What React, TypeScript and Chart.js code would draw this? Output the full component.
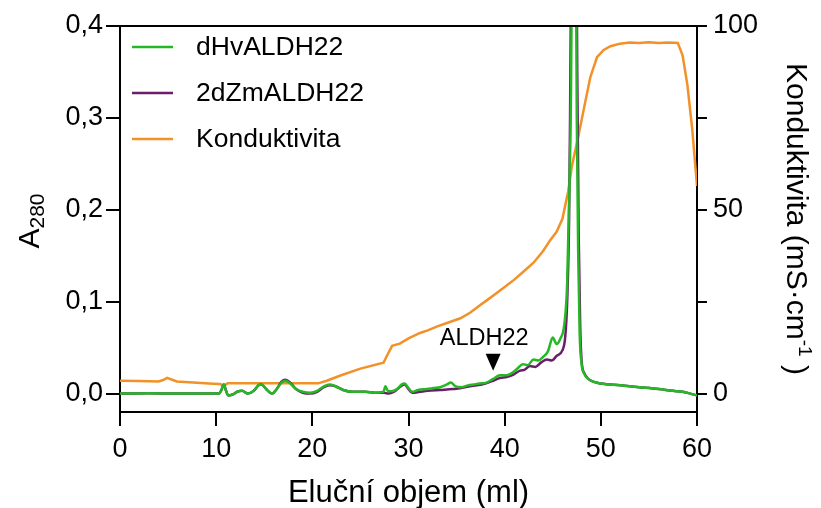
import React, { useEffect, useRef } from 'react';
import { Chart, registerables } from 'chart.js';

Chart.register(...registerables);

const FONT = "'Liberation Sans', Arial, Helvetica, sans-serif";

// ---- axis ticks ----
const xTicks = [0, 10, 20, 30, 40, 50, 60];
const aTicks = [0, 0.1, 0.2, 0.3, 0.4];
const condTicks = [0, 25, 50, 75, 100];
const condLabeled = [0, 50, 100];

// ---- series names ----
const seriesNames = ['dHvALDH22', '2dZmALDH22', 'Konduktivita'];
const seriesColors = ['#25b825', '#6a1f6a', '#f29128'];

// ---- dHvALDH22 (A280) ----
const dHvVol = [0, 3, 6, 8, 10.3, 10.55, 10.8, 11.0, 11.25, 11.7, 12.2, 12.7, 13.3, 13.9, 14.4, 14.7, 15.2, 15.8, 16.3, 16.8, 17.2, 17.7, 18.3, 19.0, 19.8, 20.5, 21.2, 21.8, 22.4, 23.2, 24.2, 25.5, 26.5, 27.4, 27.6, 27.85, 28.2, 28.8, 29.3, 29.6, 30.0, 30.4, 31.0, 31.9, 32.6, 33.3, 34.0, 34.4, 34.9, 35.5, 36.2, 36.8, 37.4, 38.1, 38.8, 39.5, 40.2, 40.7, 41.3, 41.9, 42.4, 43.0, 43.5, 44.0, 44.5, 45.0, 45.4, 45.8, 46.2, 46.5, 46.7, 46.9, 47.05, 47.2, 47.35, 47.5, 47.65, 47.8, 48.0, 48.3, 48.7, 49.2, 50, 52, 54, 56, 57.5, 58.5, 59.3, 60];
const dHvA = [0, 0.0005, 0, 0, 0, 0.004, 0.010, 0.004, -0.002, -0.001, 0.002, 0.003, 0.0, 0.003, 0.009, 0.010, 0.005, 0.0, 0.005, 0.012, 0.014, 0.011, 0.005, 0.002, 0.001, 0.003, 0.008, 0.010, 0.008, 0.004, 0.002, 0.002, 0.001, 0.002, 0.008, 0.003, 0.0025, 0.005, 0.010, 0.011, 0.006, 0.002, 0.004, 0.005, 0.006, 0.007, 0.010, 0.012, 0.008, 0.007, 0.009, 0.010, 0.011, 0.012, 0.016, 0.020, 0.020, 0.022, 0.027, 0.032, 0.031, 0.037, 0.036, 0.040, 0.046, 0.061, 0.054, 0.060, 0.075, 0.12, 0.21, 0.33, 0.55, 1.0, 0.6, 0.3, 0.15, 0.065, 0.032, 0.021, 0.016, 0.013, 0.011, 0.009, 0.007, 0.005, 0.003, 0.002, 0.0, -0.002];

// ---- 2dZmALDH22 (A280) ----
const zmVol = [0, 3, 6, 8, 10.3, 10.55, 10.8, 11.0, 11.25, 11.7, 12.2, 12.7, 13.3, 13.9, 14.4, 14.7, 15.2, 15.8, 16.3, 16.8, 17.2, 17.7, 18.3, 19.0, 19.8, 20.5, 21.2, 21.8, 22.4, 23.2, 24.2, 25.5, 26.5, 27.4, 27.9, 28.5, 29.2, 29.6, 30.0, 30.4, 31.2, 32.0, 33.3, 34.6, 35.5, 36.4, 37.1, 38.0, 38.8, 39.5, 40.2, 40.8, 41.6, 42.1, 42.6, 43.2, 43.8, 44.4, 44.9, 45.4, 46.0, 46.3, 46.5, 46.7, 46.8, 46.9, 47.05, 47.2, 47.4, 47.55, 47.7, 47.85, 48.0, 48.3, 48.7, 49.2, 50, 52, 54, 56, 57.5, 58.5, 59.3, 60];
const zmA = [0, 0.0005, 0, 0, 0, 0.004, 0.010, 0.004, -0.002, -0.001, 0.002, 0.003, 0.0, 0.003, 0.009, 0.010, 0.005, 0.0, 0.005, 0.013, 0.015, 0.012, 0.005, 0.001, 0.0, 0.002, 0.007, 0.009, 0.008, 0.004, 0.002, 0.002, 0.001, 0.001, 0.0, 0.002, 0.008, 0.010, 0.005, 0.001, 0.002, 0.003, 0.004, 0.005, 0.006, 0.008, 0.009, 0.011, 0.014, 0.017, 0.018, 0.020, 0.025, 0.026, 0.030, 0.029, 0.034, 0.037, 0.036, 0.041, 0.047, 0.062, 0.10, 0.19, 0.30, 0.45, 0.7, 1.0, 0.6, 0.35, 0.17, 0.075, 0.036, 0.022, 0.016, 0.013, 0.011, 0.009, 0.007, 0.005, 0.003, 0.002, 0.0, -0.002];

// ---- Konduktivita (mS/cm) ----
const condVol = [0, 2, 4, 4.5, 4.9, 5.9, 7.6, 9.7, 10.4, 10.8, 11.2, 12, 15, 18, 20.6, 21.5, 23, 25, 27.4, 27.8, 28.3, 29.1, 30, 31.2, 32, 33, 34, 35.4, 36.4, 37.4, 38.1, 39, 40, 41, 42, 43, 44, 44.7, 45.4, 46, 46.6, 47.0, 47.5, 48.2, 48.9, 49.6, 50.3, 51, 52, 53, 54, 55, 56, 57, 58, 58.5, 59, 59.5, 60];
const condVal = [3.5, 3.4, 3.3, 3.7, 4.3, 3.3, 3.0, 2.7, 2.6, 2.2, 2.8, 2.8, 2.8, 2.8, 2.8, 3.5, 5.0, 6.8, 8.4, 10.5, 13.0, 13.6, 15.0, 16.5, 17.2, 18.3, 19.2, 20.5, 22.0, 24.0, 25.3, 27.0, 29.0, 31.0, 33.3, 35.6, 38.8, 41.6, 44.0, 47.5, 55, 62, 68, 77, 86, 91.5, 93.5, 94.5, 95.2, 95.5, 95.4, 95.6, 95.4, 95.5, 95.4, 92, 84, 72, 56.5];

// ---- annotation ----
const annotationLabel = 'ALDH22';
const annotationVol = 38.8;
const annotationA = 0.025;

const xTitle = 'Eluční objem (ml)';

const toPts = (xs: number[], ys: number[]) => xs.map((x, i) => ({ x, y: ys[i] }));

function drawRich(ctx: CanvasRenderingContext2D, parts: { t: string; size: number; dy: number }[], cx: number, cy: number) {
  let total = 0;
  parts.forEach((p) => {
    ctx.font = `${p.size}px ${FONT}`;
    total += ctx.measureText(p.t).width;
  });
  let x = cx - total / 2;
  ctx.textAlign = 'left';
  ctx.textBaseline = 'alphabetic';
  parts.forEach((p) => {
    ctx.font = `${p.size}px ${FONT}`;
    ctx.fillText(p.t, x, cy + p.dy);
    x += ctx.measureText(p.t).width;
  });
}

const overlay = {
  id: 'overlay',
  afterDraw(chart: any) {
    const { ctx, chartArea } = chart;
    const { left, right, top } = chartArea;
    const xs = chart.scales.x;
    const ys = chart.scales.y;
    ctx.save();
    // top frame line
    ctx.strokeStyle = '#000';
    ctx.lineWidth = 2;
    ctx.beginPath();
    ctx.moveTo(left - 1, top);
    ctx.lineTo(right + 1, top);
    ctx.stroke();

    // legend
    seriesNames.forEach((name, i) => {
      const yy = top + 21 + i * 46;
      ctx.strokeStyle = seriesColors[i];
      ctx.lineWidth = 2.5;
      ctx.beginPath();
      ctx.moveTo(left + 12, yy);
      ctx.lineTo(left + 53, yy);
      ctx.stroke();
      ctx.fillStyle = '#000';
      ctx.font = `26.5px ${FONT}`;
      ctx.textAlign = 'left';
      ctx.textBaseline = 'middle';
      ctx.fillText(name, left + 76, yy + 1);
    });

    // annotation
    const px = xs.getPixelForValue(annotationVol);
    const py = ys.getPixelForValue(annotationA);
    ctx.fillStyle = '#000';
    ctx.beginPath();
    ctx.moveTo(px, py);
    ctx.lineTo(px - 7.5, py - 17);
    ctx.lineTo(px + 7.5, py - 17);
    ctx.closePath();
    ctx.fill();
    ctx.font = `23.5px ${FONT}`;
    ctx.textAlign = 'center';
    ctx.textBaseline = 'alphabetic';
    ctx.fillText(annotationLabel, px - 9, py - 26);

    // x title
    ctx.font = `31px ${FONT}`;
    ctx.textAlign = 'center';
    ctx.textBaseline = 'alphabetic';
    ctx.fillText(xTitle, (left + right) / 2, 502);

    // left title A280
    ctx.save();
    ctx.translate(39, 221);
    ctx.rotate(-Math.PI / 2);
    drawRich(ctx, [
      { t: 'A', size: 30, dy: 0 },
      { t: '280', size: 21, dy: 5 },
    ], 0, 0);
    ctx.restore();

    // right title
    ctx.save();
    ctx.translate(787, 219);
    ctx.rotate(Math.PI / 2);
    drawRich(ctx, [
      { t: 'Konduktivita (mS·cm', size: 30, dy: 0 },
      { t: '-1', size: 19, dy: -12 },
      { t: ' )', size: 30, dy: 0 },
    ], 0, 0);
    ctx.restore();

    ctx.restore();
  },
};

export default function App() {
  const ref = useRef<HTMLCanvasElement | null>(null);
  useEffect(() => {
    if (!ref.current) return;
    const tickFont = { family: FONT, size: 27 };
    const chart = new Chart(ref.current, {
      type: 'line',
      data: {
        datasets: [
          {
            label: seriesNames[0],
            data: toPts(dHvVol, dHvA),
            borderColor: seriesColors[0],
            borderWidth: 2.5,
            pointRadius: 0,
            cubicInterpolationMode: 'monotone',
            yAxisID: 'y',
            order: 0,
          },
          {
            label: seriesNames[1],
            data: toPts(zmVol, zmA),
            borderColor: seriesColors[1],
            borderWidth: 2.5,
            pointRadius: 0,
            cubicInterpolationMode: 'monotone',
            yAxisID: 'y',
            order: 1,
          },
          {
            label: seriesNames[2],
            data: toPts(condVol, condVal),
            borderColor: seriesColors[2],
            borderWidth: 2.5,
            pointRadius: 0,
            tension: 0,
            yAxisID: 'y1',
            order: 2,
          },
        ],
      },
      options: {
        animation: false,
        responsive: false,
        devicePixelRatio: 1,
        events: [],
        layout: { padding: { top: 26, left: 0, right: 0, bottom: 0 } },
        plugins: { legend: { display: false }, tooltip: { enabled: false } },
        scales: {
          x: {
            type: 'linear',
            position: 'bottom',
            min: 0,
            max: 60,
            afterBuildTicks: (s: any) => {
              s.ticks = xTicks.map((v) => ({ value: v }));
            },
            afterFit: (s: any) => {
              s.height = 96;
            },
            grid: { drawOnChartArea: false, drawTicks: true, tickLength: 14, color: '#000', lineWidth: 2 },
            border: { display: true, color: '#000', width: 2 },
            ticks: { color: '#000', font: tickFont, padding: 7, maxRotation: 0, autoSkip: false },
          },
          y: {
            type: 'linear',
            position: 'left',
            min: -0.02,
            max: 0.4,
            afterBuildTicks: (s: any) => {
              s.ticks = aTicks.map((v) => ({ value: v }));
            },
            afterFit: (s: any) => {
              s.width = 120;
            },
            grid: { drawOnChartArea: false, drawTicks: true, tickLength: 14, color: '#000', lineWidth: 2 },
            border: { display: true, color: '#000', width: 2 },
            ticks: {
              color: '#000',
              font: tickFont,
              padding: 3,
              autoSkip: false,
              callback: (v: any) => Number(v).toFixed(1).replace('.', ','),
            },
          },
          y1: {
            type: 'linear',
            position: 'right',
            min: -5,
            max: 100,
            afterBuildTicks: (s: any) => {
              s.ticks = condTicks.map((v) => ({ value: v }));
            },
            afterFit: (s: any) => {
              s.width = 124;
            },
            grid: { drawOnChartArea: false, drawTicks: true, tickLength: 10, color: '#000', lineWidth: 2 },
            border: { display: true, color: '#000', width: 2 },
            ticks: {
              color: '#000',
              font: tickFont,
              padding: 6,
              autoSkip: false,
              callback: (v: any) => (condLabeled.includes(Number(v)) ? String(v) : ''),
            },
          },
        },
      },
      plugins: [overlay],
    });
    return () => chart.destroy();
  }, []);
  return (
    <canvas
      ref={ref}
      width={821}
      height={508}
      style={{ position: 'absolute', left: 0, top: 0, width: 821, height: 508 }}
    />
  );
}
